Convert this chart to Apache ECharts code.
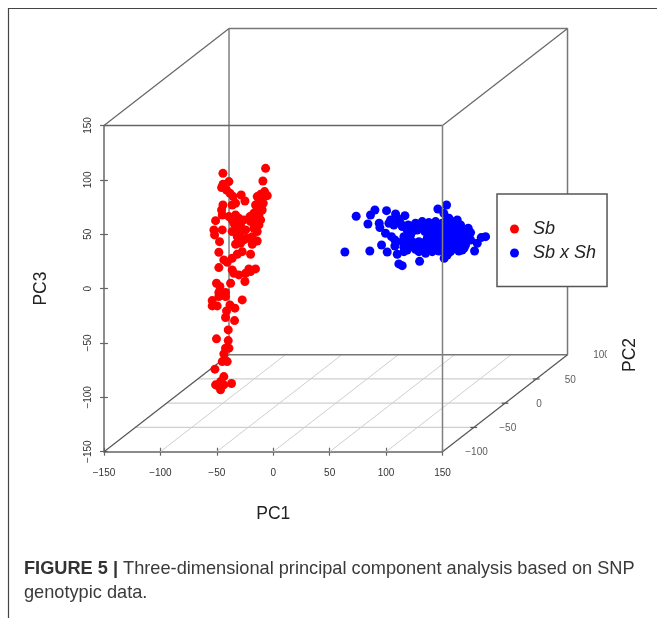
<!DOCTYPE html>
<html>
<head>
<meta charset="utf-8">
<style>html,body{margin:0;padding:0;background:#fff}#c{width:657px;height:618px}</style>
<script src="https://cdn.jsdelivr.net/npm/echarts@6/dist/echarts.min.js"></script>
</head>
<body>
<div id="c"></div>
<script>
// Projected (PC1, PC3) position of each sample
const sbPoints = [
[-6.8,110.6],[-44.6,106.0],[-9.2,99.0],[-39.3,98.4],[-44.6,95.9],[-45.8,92.9],[-41.4,90.7],[-38.4,87.7],[-35.5,84.6],[-28.4,86.1],
[-25.1,80.6],[-33.4,78.5],[-36.4,76.9],[-7.7,89.2],[-11.2,86.7],[-5.3,85.5],[-14.2,84.6],[-9.8,83.1],[-12.7,80.0],[-8.9,78.5],
[-15.7,76.9],[-11.2,75.4],[-14.2,72.3],[-9.8,72.3],[-17.2,69.3],[-12.7,67.7],[-20.7,66.2],[-15.7,63.2],[-11.2,63.2],[-20.1,61.6],
[-12.7,58.6],[-44.6,76.9],[-45.8,72.3],[-45.2,67.7],[-39.3,66.2],[-33.4,67.7],[-36.4,63.2],[-30.5,64.7],[-26.0,63.2],[-51.1,62.5],
[-34.9,60.1],[-29.0,58.6],[-52.6,54.0],[-45.2,54.0],[-52.0,49.4],[-33.4,54.0],[-36.4,52.4],[-29.0,50.9],[-17.2,55.5],[-14.2,52.4],
[-24.5,54.0],[-31.9,47.8],[-23.1,46.3],[-18.6,47.8],[-26.0,44.8],[-47.6,43.2],[-14.2,43.8],[-33.4,40.8],[-29.0,41.7],[-18.6,40.8],
[-48.2,33.4],[-27.5,34.0],[-31.9,31.6],[-20.1,31.6],[-43.8,26.4],[-36.4,27.9],[-40.8,24.2],[-48.2,19.3],[-15.7,18.1],[-21.6,18.1],
[-36.4,17.2],[-34.9,14.1],[-30.5,12.6],[-24.5,14.1],[-20.1,15.7],[-50.3,4.9],[-37.8,4.9],[-25.1,6.5],
[-47.3,1.9],[-48.2,-3.6],[-42.3,-3.6],[-48.2,-7.3],[-42.3,-7.3],[-27.5,-10.4],[-54.1,-11.0],[-54.1,-15.9],[-49.7,-15.9],[-38.4,-15.0],
[-34.0,-18.0],[-41.4,-20.5],[-42.3,-26.6],[-34.3,-29.4],[-39.9,-38.0],[-50.3,-46.2],[-39.9,-47.8],[-42.3,-54.8],[-39.3,-54.8],[-43.8,-60.0],
[-42.9,-65.5],[-40.8,-67.1],[-45.2,-67.1],[-51.7,-74.1],[-43.8,-80.9],[-46.7,-85.5],[-51.1,-88.5],[-37.0,-87.3],[-48.2,-90.0],[-43.8,-88.5],[-46.7,-93.1]
];
const hybridPoints = [
[63.5,33.7],[73.5,66.5],[85.6,34.6],[86.2,67.7],[90.1,72.3],[83.9,59.4],[100.4,71.7],[93.9,60.1],[94.5,56.1],[99.5,50.9],
[96.0,40.1],[101.0,33.7],[104.8,47.8],[107.8,44.7],[107.8,39.2],[108.4,68.6],[104.0,63.1],[102.5,60.1],[116.7,67.1],[111.3,63.7],
[106.9,58.5],[114.3,57.0],[109.9,31.6],[115.8,34.0],[111.3,22.7],[114.3,21.1],[129.7,25.1],[145.9,73.2],[153.6,76.9],[151.2,69.2],
[155.7,64.7],[163.1,63.1],[151.5,27.9],[178.4,34.6],[188.2,47.8],[184.3,46.9],[180.8,41.7],[172.8,55.5],[174.9,51.5],[169.0,37.1],[164.5,34.6],
[126.1,60.1],[132.0,61.6],[137.9,60.7],[143.9,61.6],[149.8,60.1],[155.7,58.5],[160.1,57.0],[166.0,55.5],[170.4,53.3],
[118.7,53.9],[124.6,55.5],[130.6,56.4],[136.5,55.5],[142.4,57.0],[148.3,55.5],[154.2,53.9],[158.6,52.4],[164.5,50.9],[169.0,49.3],
[115.8,47.8],[121.7,49.3],[127.6,53.9],[134.4,52.4],[139.4,51.5],[145.3,50.9],[151.2,49.3],[157.1,47.8],[163.1,46.3],[169.0,44.7],[173.4,47.8],
[117.3,41.7],[123.2,43.2],[129.1,43.2],[135.0,43.2],[140.9,44.1],[146.8,45.4],[152.7,43.2],[158.6,42.3],[164.5,41.7],[170.4,40.1],
[115.8,38.0],[126.1,38.6],[132.0,39.2],[137.9,38.6],[143.9,40.1],[149.8,38.6],[155.7,38.0],[161.6,37.1],
[129.1,34.0],[135.0,32.5],[140.9,34.0],[146.8,34.6],[152.7,33.1],[157.1,34.0],[126.1,36.1],[120.8,46.3],[136.5,46.3],[148.3,41.7],
[160.1,49.3],[143.9,47.2],[114.3,43.2],[167.5,35.5],[133.5,58.5],[146.8,58.5],[152.7,61.6],[142.4,37.1],[154.2,30.9],[158.6,61.6],[174.9,44.7],[166.0,58.5],
[112.8,60.1],[119.6,58.5],[118.7,35.5],[121.7,38.6],[138.0,47.8],[149.8,52.4],[123.2,52.4]
];
const pc1Ticks = [-150,-100,-50,0,50,100,150];
const pc2Ticks = [-100,-50,0,50,100];
const pc3Ticks = [-150,-100,-50,0,50,100,150];
const seriesNames = ['Sb','Sb x Sh'];
const captionBold = 'FIGURE 5 |';
const captionLine1 = ' Three-dimensional principal component analysis based on SNP';
const captionLine2 = 'genotypic data.';

// Oblique projection of the PC2 axis onto the PC1/PC3 plane
const DEPTH_X = 110.8, DEPTH_Y = 89.2;
const proj = (a, b, c) => [a + (b + 100) / 200 * DEPTH_X, c + (b + 100) / 200 * DEPTH_Y];
const minus = v => String(v).replace('-', '\u2212');
const FONT = '"Liberation Sans", Arial, sans-serif';

const seg = (p, q, color, width, z) => ({
  type: 'custom', silent: true, z: z, clip: false,
  data: [[p[0], p[1], q[0], q[1]]],
  encode: { x: [0, 2], y: [1, 3] },
  renderItem: (params, api) => {
    const a = api.coord([api.value(0), api.value(1)]);
    const b = api.coord([api.value(2), api.value(3)]);
    return { type: 'line', shape: { x1: a[0], y1: a[1], x2: b[0], y2: b[1] }, style: { stroke: color, lineWidth: width, fill: null } };
  }
});
const lines = [];
// floor grid
pc1Ticks.slice(1, -1).forEach(v => lines.push(seg(proj(v,-100,-150), proj(v,100,-150), '#cfcfcf', 1, 1)));
pc2Ticks.slice(1, -1).forEach(v => lines.push(seg(proj(-150,v,-150), proj(150,v,-150), '#cfcfcf', 1.2, 1)));
// back of the box
lines.push(seg(proj(-150,100,150), proj(150,100,150), '#777', 1.5, 1));
lines.push(seg(proj(-150,100,150), proj(-150,100,-150), '#808080', 1.5, 1));
lines.push(seg(proj(150,100,150), proj(150,100,-150), '#777', 1.5, 1));
lines.push(seg(proj(-150,100,-150), proj(150,100,-150), '#777', 1.5, 1));
lines.push(seg(proj(-150,-100,-150), proj(-150,100,-150), '#555', 1.2, 1));
lines.push(seg(proj(-150,-100,150), proj(-150,100,150), '#666', 1.2, 1));
lines.push(seg(proj(150,-100,150), proj(150,100,150), '#666', 1.2, 1));
lines.push(seg(proj(150,-100,-150), proj(150,100,-150), '#555', 1.2, 1));
// front of the box (drawn over the points)
lines.push(seg(proj(-150,-100,150), proj(150,-100,150), '#666', 1.5, 5));
lines.push(seg(proj(150,-100,150), proj(150,-100,-150), '#808080', 1.5, 5));
// PC2 ticks
pc2Ticks.slice(1, -1).forEach(v => lines.push(seg(proj(147,v,-150), proj(153,v,-150), '#555', 1.2, 2)));

const baseAxis = {
  min: -150, max: 150, interval: 50,
  axisLine: { show: true, onZero: false, lineStyle: { color: '#666', width: 1.5 } },
  axisTick: { show: true, length: 4, lineStyle: { color: '#666', width: 1.2 } },
  splitLine: { show: false }
};
const innerAxis = {
  type: 'value', min: -150, max: 150, interval: 50,
  axisLine: { show: false, onZero: false }, axisLabel: { show: false }, splitLine: { show: false },
  axisTick: { show: true, inside: true, length: 4, lineStyle: { color: '#666', width: 1.2 } }
};

const chart = echarts.init(document.getElementById('c'), null, { renderer: 'canvas' });
chart.setOption({
  animation: false,
  backgroundColor: '#fff',
  textStyle: { fontFamily: FONT },
  title: {
    left: 24, top: 557, padding: 0,
    text: '{b|' + captionBold + '}{n|' + captionLine1 + '}\n{n|' + captionLine2 + '}',
    textStyle: {
      rich: {
        b: { fontFamily: FONT, fontWeight: 'bold', fontSize: 18.2, lineHeight: 24, color: '#333' },
        n: { fontFamily: FONT, fontWeight: 'normal', fontSize: 18.2, lineHeight: 24, color: '#3a3a3a' }
      }
    }
  },
  grid: { left: 104, top: 125.5, width: 338.5, height: 326.2, containLabel: false },
  xAxis: [
    Object.assign({}, baseAxis, {
      type: 'value', position: 'bottom',
      name: 'PC1', nameLocation: 'middle', nameGap: 53,
      nameTextStyle: { fontFamily: FONT, fontSize: 17.5, color: '#222' },
      axisLabel: { margin: 17, fontFamily: FONT, fontSize: 10, color: '#333', formatter: minus, showMinLabel: true, showMaxLabel: true, hideOverlap: false }
    }),
    Object.assign({}, innerAxis, { position: 'bottom' })
  ],
  yAxis: [
    Object.assign({}, baseAxis, {
      type: 'value', position: 'left',
      name: 'PC3', nameLocation: 'middle', nameGap: 54, nameRotate: 90,
      nameTextStyle: { fontFamily: FONT, fontSize: 17.5, color: '#222' },
      axisLabel: { rotate: 90, margin: 11, fontFamily: FONT, fontSize: 10, color: '#333', formatter: minus, align: 'center', verticalAlign: 'bottom', showMinLabel: true, showMaxLabel: true, hideOverlap: false }
    }),
    Object.assign({}, innerAxis, { position: 'left' })
  ],
  legend: {
    left: 497, top: 194, orient: 'vertical',
    data: seriesNames, icon: 'circle', itemWidth: 9, itemHeight: 9, itemGap: 6,
    padding: [26, 11, 24.5, 13],
    backgroundColor: '#fff', borderColor: '#555', borderWidth: 1.5, borderRadius: 0, z: 10,
    textStyle: { fontFamily: FONT, fontStyle: 'italic', fontSize: 18, color: '#222', padding: [0, 0, 0, 9] }
  },
  series: lines.concat([
    { type: 'scatter', name: seriesNames[0], data: sbPoints, symbol: 'circle', symbolSize: 9, clip: false, z: 3, itemStyle: { color: '#ff0000', opacity: 1 } },
    { type: 'scatter', name: seriesNames[1], data: hybridPoints, symbol: 'circle', symbolSize: 9, clip: false, z: 3, itemStyle: { color: '#0000ff', opacity: 1 } },
    { type: 'scatter', name: 'PC2 axis', data: pc2Ticks.map(v => proj(150, v, -150).concat([v])), symbolSize: 0, clip: false, silent: true, z: 6,
      encode: { x: 0, y: 1 },
      label: { show: true, position: 'inside', offset: [34, 1], fontFamily: FONT, fontSize: 10, color: '#333', formatter: p => minus(p.value[2]) } }
  ]),
  graphic: [
    { type: 'polyline', z: 20, shape: { points: [[8.5, 618], [8.5, 8.5], [657, 8.5]] }, style: { stroke: '#444', lineWidth: 1.2, fill: null } },
    { type: 'rect', z: 20, shape: { x: 607, y: 345, width: 9, height: 18 }, style: { fill: '#fff' } },
    { type: 'text', z: 20, x: 630, y: 355, rotation: Math.PI / 2, style: { text: 'PC2', font: '17.5px ' + FONT, fill: '#222', align: 'center', verticalAlign: 'middle' } }
  ]
});
</script>
</body>
</html>
